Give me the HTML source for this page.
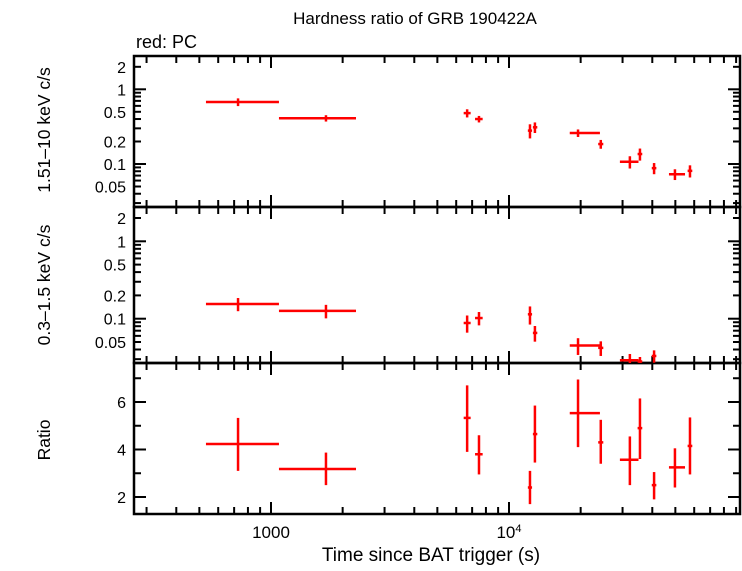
<!DOCTYPE html>
<html><head><meta charset="utf-8"><style>
body{margin:0;background:#fff}
svg text{font-family:"Liberation Sans",sans-serif;font-size:16px;fill:#000}
</style></head><body>
<svg id="c" width="742" height="566" xmlns="http://www.w3.org/2000/svg">
<defs>
<clipPath id="p0"><rect x="134" y="56" width="606" height="151"/></clipPath>
<clipPath id="p1"><rect x="134" y="207" width="606" height="156"/></clipPath>
<clipPath id="p2"><rect x="134" y="363" width="606" height="151"/></clipPath>
</defs>
<text x="415" y="24" text-anchor="middle" style="font-size:17px">Hardness ratio of GRB 190422A</text>
<text x="136" y="48" style="font-size:18px">red: PC</text>
<text transform="translate(50,130) rotate(-90)" text-anchor="middle" style="font-size:17.5px">1.51–10 keV c/s</text>
<text transform="translate(50,285) rotate(-90)" text-anchor="middle" style="font-size:17.5px">0.3–1.5 keV c/s</text>
<text transform="translate(50,440) rotate(-90)" text-anchor="middle" style="font-size:17.5px">Ratio</text>
<text x="431" y="561" text-anchor="middle" style="font-size:19px">Time since BAT trigger (s)</text>
<g id="g"></g>
</svg>
<script>
const times=[727,1702,6670,7480,12250,12850,19500,24300,32200,35500,40700,49800,57600];
const tLo=[533,1080,6450,7200,12000,12600,18000,23700,29240,34700,39800,47000,56300];
const tHi=[1080,2276,6900,7750,12500,13150,24100,24900,35000,36300,41600,54900,58900];
const hard=[0.676,0.41,0.48,0.40,0.28,0.31,0.26,0.185,0.107,0.136,0.088,0.073,0.081];
const hardErr=[0.08,0.04,0.06,0.04,0.06,0.05,0.03,0.025,0.02,0.025,0.015,0.012,0.015];
const soft=[0.155,0.126,0.088,0.102,0.114,0.0655,0.045,0.042,0.029,0.028,0.033,null,null];
const softErr=[0.03,0.025,0.022,0.02,0.03,0.015,0.011,0.009,0.006,0.004,0.006,null,null];
const ratio=[4.23,3.18,5.33,3.8,2.4,4.65,5.53,4.3,3.57,4.9,2.5,3.25,4.15];
const ratioLo=[3.1,2.5,3.9,2.95,1.7,3.45,4.1,3.4,2.5,3.6,1.9,2.4,2.95];
const ratioHi=[5.33,3.87,6.7,4.6,3.1,5.85,6.95,5.25,4.55,6.15,3.05,4.05,5.35];
const hardTicks=[0.05,0.1,0.2,0.5,1,2];
const hardTickLabels=["0.05","0.1","0.2","0.5","1","2"];
const ratioTicks=[2,4,6];

const NS="http://www.w3.org/2000/svg",G=document.getElementById('g');
const L=134,R=740;
const X=t=>271+(Math.log10(t)-3)*238;
const Y0=v=>89.3-Math.log10(v)*74.7;
const Y1=v=>241.3-Math.log10(v)*77.4;
const Y2=v=>402-(v-6)*23.75;
const panels=[[56,207],[207,363],[363,514]];
function mk(tag,a,parent){const e=document.createElementNS(NS,tag);for(const k in a)e.setAttribute(k,a[k]);(parent||G).appendChild(e);return e;}
function ln(x1,y1,x2,y2,c,w,p){return mk('line',{x1,y1,x2,y2,stroke:c,'stroke-width':w},p);}
const axes=mk('g',{});


const xt=[];for(let d=100;d<=10000;d*=10)for(let m=1;m<10;m++)xt.push(d*m);
panels.forEach(([t,b],pi)=>{
  xt.forEach(v=>{const x=X(v);if(x<=L||x>=R)return;const maj=(v===1000||v===10000);const len=maj?12:7;
    ln(x,t,x,t+len,'#000',2,axes);ln(x,b,x,b-len,'#000',2,axes);});
  if(pi<2){const Y=pi?Y1:Y0;
    for(let d=0.01;d<5;d*=10)for(let m=1;m<10;m++){const v=d*m,y=Y(v);if(y<=t+1||y>=b-1)continue;const maj=(m===1);const len=maj?12:7;
      ln(L,y,L+len,y,'#000',2,axes);ln(R,y,R-len,y,'#000',2,axes);}
    hardTicks.forEach((v,i)=>{const y=Y(v);const tx=mk('text',{x:126,y:y+6,'text-anchor':'end'},axes);tx.textContent=hardTickLabels[i];
      
      });
  }else{
    for(let v=2;v<=7;v++){const y=Y2(v);const len=(v%2===0)?12:7;ln(L,y,L+len,y,'#000',2,axes);ln(R,y,R-len,y,'#000',2,axes);}
    ratioTicks.forEach(v=>{const tx=mk('text',{x:126,y:Y2(v)+6,'text-anchor':'end'},axes);tx.textContent=String(v);
      
      });
  }
  mk('rect',{x:L,y:t,width:R-L,height:b-t,fill:'none',stroke:'#000','stroke-width':2.5},axes);
});
[[1000,'1000'],[10000,'10']].forEach(([v,s])=>{const tx=mk('text',{x:X(v),y:538,'text-anchor':'middle',style:'font-size:17px'},axes);tx.textContent=s;
  if(v===10000){const sp=mk('tspan',{dy:-6,'font-size':'11'},tx);sp.textContent='4';}
  
  });
function series(vals,lo,hi,Y,clip,name){
  const g=mk('g',{'clip-path':'url(#'+clip+')'});
  
  
  vals.forEach((v,i)=>{if(v===null)return;const x=X(times[i]),y=Y(v);
    ln(X(tLo[i]),y,X(tHi[i]),y,'#f00',2.5,g);
    ln(x,Y(lo(i)),x,Y(hi(i)),'#f00',2.5,g);});
}
series(hard,i=>hard[i]-hardErr[i],i=>hard[i]+hardErr[i],Y0,'p0','hard-band-series');
series(soft,i=>Math.max(soft[i]-softErr[i],0.001),i=>soft[i]+softErr[i],Y1,'p1','soft-band-series');
series(ratio,i=>ratioLo[i],i=>ratioHi[i],Y2,'p2','ratio-series');
</script>
</body></html>
